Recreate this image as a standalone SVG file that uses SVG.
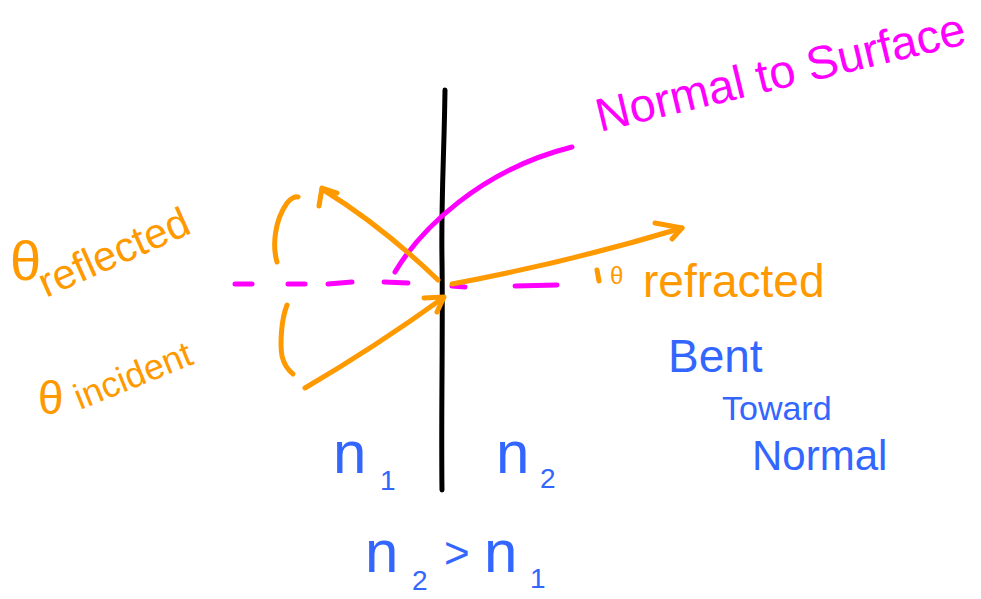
<svg xmlns="http://www.w3.org/2000/svg" width="981" height="599" viewBox="0 0 981 599">
<style>
.s{fill:none;stroke-linecap:round;stroke-linejoin:round;stroke-width:5}
.o{stroke:#FF9900}
.m{stroke:#FF00FF}
.k{stroke:#000000}
.t{font-family:"Liberation Sans","DejaVu Sans",sans-serif}
.to{fill:#FF9900}
.tm{fill:#FF00FF}
.tb{fill:#3366FF}
</style>
<rect width="981" height="599" fill="#ffffff"/>
<g id="surface">
<path class="s k" d="M445,90 C444,160 441,200 442,260 C443,330 441,420 442,490"/>
</g>
<g id="normal">
<path class="s m" d="M235,284 L252,284 M288,284 L305,284 M328,284 L352,282 M384,282 L408,283 M452,286 L465,287 M515,286 L557,285"/>
<path class="s m" d="M395,272 C420,230 480,170 572,147"/>
</g>
<g id="connectors">
<path class="s o" d="M305,388 Q375,347 443,298"/>
<path class="s o" d="M424,298 L444,297 L437,312"/>
<path class="s o" d="M438,280 Q382,226 322,189"/>
<path class="s o" d="M319,206 L322,188 L337,193"/>
<path class="s o" d="M452,284 Q570,262 682,228"/>
<path class="s o" d="M655,223 L682,228 L672,239"/>
<path class="s o" d="M277,262 C272,245 275,220 287,203 C291,198 296,196 298,197"/>
<path class="s o" d="M287,305 C281,320 280,345 282,356 C284,365 288,370 293,374"/>
<path class="s o" d="M597,270 L599,281"/>
</g>
<g id="label-reflected">
<text class="t to" x="10" y="280" font-size="56">θ</text>
<text class="t to" x="46" y="298" font-size="42" transform="rotate(-24 46 298)">reflected</text>
</g>
<g id="label-incident">
<text class="t to" x="38" y="414" font-size="46">θ</text>
<text class="t to" x="80" y="410" font-size="36" transform="rotate(-22 80 410)">incident</text>
</g>
<g id="label-normal">
<text class="t tm" x="600" y="132" font-size="47" transform="rotate(-13.5 600 132)">Normal to Surface</text>
</g>
<g id="label-refracted">
<text class="t to" x="610" y="284" font-size="24">θ</text>
<text class="t to" x="643" y="297" font-size="46">refracted</text>
</g>
<g id="label-bent">
<text class="t tb" x="668" y="372" font-size="46">Bent</text>
<text class="t tb" x="722" y="420" font-size="34">Toward</text>
<text class="t tb" x="752" y="470" font-size="42">Normal</text>
</g>
<g id="label-n1">
<text class="t tb" x="333" y="473" font-size="60">n</text>
<text class="t tb" x="380" y="490" font-size="28">1</text>
</g>
<g id="label-n2">
<text class="t tb" x="496" y="473" font-size="60">n</text>
<text class="t tb" x="540" y="488" font-size="28">2</text>
</g>
<g id="label-relation">
<text class="t tb" x="365" y="572" font-size="60">n</text>
<text class="t tb" x="412" y="590" font-size="28">2</text>
<text class="t tb" x="444" y="568" font-size="44">&gt;</text>
<text class="t tb" x="484" y="572" font-size="60">n</text>
<text class="t tb" x="530" y="588" font-size="28">1</text>
</g>
</svg>
